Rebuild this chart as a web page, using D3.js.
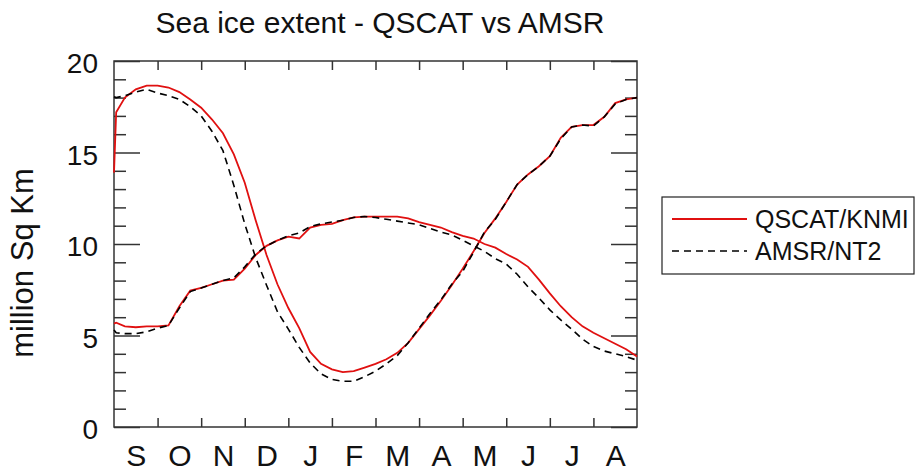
<!DOCTYPE html>
<html>
<head>
<meta charset="utf-8">
<script src="https://cdn.jsdelivr.net/npm/d3@7"></script>
<style>
  body { margin: 0; background: #fff; }
  svg text { font-family: "Liberation Sans", Arial, Helvetica, sans-serif; fill: #111; }
  .axis path, .axis line { stroke: #333; stroke-width: 1.5; }
</style>
</head>
<body>
<div id="chart"></div>
<script>
// month position (0 = start of Sep, 12 = end of Aug)
var monthPos = [0, 0.05, 0.25, 0.5, 0.75, 1, 1.25, 1.5, 1.75, 2, 2.25, 2.5, 2.75, 3, 3.25, 3.5, 3.75,
  4, 4.25, 4.5, 4.75, 5, 5.25, 5.5, 5.75, 6, 6.25, 6.5, 6.75, 7, 7.25, 7.5, 7.75,
  8, 8.25, 8.5, 8.75, 9, 9.25, 9.5, 9.75, 10, 10.25, 10.5, 10.75, 11, 11.25, 11.5, 11.75, 12];

var monthLabels = ['S', 'O', 'N', 'D', 'J', 'F', 'M', 'A', 'M', 'J', 'J', 'A'];
var yMajor = [0, 5, 10, 15, 20];

// southern hemisphere
var southQscat = [13.9, 17.2, 18.0, 18.45, 18.65, 18.65, 18.55, 18.3, 17.9, 17.45, 16.8, 16.05, 14.9, 13.35, 11.3, 9.4, 7.8,
  6.5, 5.4, 4.1, 3.45, 3.15, 3.0, 3.05, 3.25, 3.45, 3.7, 4.05, 4.6, 5.35, 6.1, 6.9, 7.75,
  8.65, 9.6, 10.6, 11.4, 12.3, 13.25, 13.8, 14.25, 14.8, 15.8, 16.4, 16.5, 16.5, 16.95, 17.7, 17.9, 18.0];
var southAmsr = [18.05, 18.0, 18.1, 18.3, 18.45, 18.25, 18.1, 17.9, 17.5, 17.0, 16.15, 15.1, 13.2, 11.1, 9.25, 7.75, 6.3,
  5.35, 4.35, 3.5, 2.9, 2.6, 2.5, 2.5, 2.75, 3.05, 3.45, 3.9, 4.6, 5.4, 6.2, 6.95, 7.8,
  8.5, 9.55, 10.65, 11.35, 12.3, 13.25, 13.8, 14.25, 14.8, 15.75, 16.4, 16.5, 16.45, 16.95, 17.65, 17.9, 18.0];

// northern hemisphere
var northQscat = [5.65, 5.7, 5.5, 5.45, 5.5, 5.5, 5.55, 6.6, 7.45, 7.6, 7.8, 8.0, 8.05, 8.65, 9.4, 9.9, 10.2,
  10.4, 10.3, 10.9, 11.05, 11.1, 11.3, 11.45, 11.5, 11.5, 11.5, 11.5, 11.4, 11.2, 11.05, 10.9, 10.65,
  10.45, 10.3, 10.0, 9.8, 9.45, 9.15, 8.75, 8.05, 7.3, 6.6, 6.0, 5.5, 5.15, 4.85, 4.55, 4.25, 3.85];
var northAmsr = [5.3, 5.15, 5.1, 5.1, 5.2, 5.4, 5.55, 6.5, 7.4, 7.6, 7.8, 8.0, 8.15, 8.75, 9.45, 9.9, 10.2,
  10.45, 10.6, 10.95, 11.1, 11.2, 11.3, 11.45, 11.5, 11.45, 11.35, 11.25, 11.15, 11.05, 10.85, 10.65, 10.5,
  10.2, 9.9, 9.6, 9.2, 8.9, 8.35, 7.65, 7.05, 6.4, 5.85, 5.35, 4.8, 4.4, 4.15, 4.0, 3.85, 3.65];

var margin = { top: 61, left: 114 };
var width = 523, height = 366;

var svg = d3.select('#chart').append('svg')
    .attr('width', 916)
    .attr('height', 473);

var g = svg.append('g')
    .attr('transform', 'translate(' + margin.left + ',' + margin.top + ')');

var x = d3.scaleLinear().domain([0, 12]).range([0, width]);
var y = d3.scaleLinear().domain([0, 20]).range([height, 0]);

var yMinor = d3.range(1, 20).filter(function (v) { return v % 5 !== 0; });
var xTicks = d3.range(1, 12);

// y axis, left and right (ticks point inward)
g.append('g').attr('class', 'axis')
    .call(d3.axisLeft(y).tickValues(yMajor).tickSize(-26).tickSizeOuter(0).tickPadding(16))
    .call(function (s) { s.select('.domain').remove(); })
    .selectAll('text')
      .style('font-size', '28px')
      .attr('dy', '0.42em');

g.append('g').attr('class', 'axis')
    .call(d3.axisLeft(y).tickValues(yMinor).tickSize(-12).tickFormat(''))
    .call(function (s) { s.select('.domain').remove(); });

g.append('g').attr('class', 'axis')
    .attr('transform', 'translate(' + width + ',0)')
    .call(d3.axisRight(y).tickValues(yMajor).tickSize(-26).tickFormat(''))
    .call(function (s) { s.select('.domain').remove(); });

g.append('g').attr('class', 'axis')
    .attr('transform', 'translate(' + width + ',0)')
    .call(d3.axisRight(y).tickValues(yMinor).tickSize(-12).tickFormat(''))
    .call(function (s) { s.select('.domain').remove(); });

// x axis, bottom and top
g.append('g').attr('class', 'axis')
    .attr('transform', 'translate(0,' + height + ')')
    .call(d3.axisBottom(x).tickValues(xTicks).tickSize(-9).tickFormat(''))
    .call(function (s) { s.select('.domain').remove(); });

g.append('g').attr('class', 'axis')
    .call(d3.axisTop(x).tickValues(xTicks).tickSize(-9).tickFormat(''))
    .call(function (s) { s.select('.domain').remove(); });

// month labels at month centres
g.append('g')
    .attr('transform', 'translate(0,' + height + ')')
    .call(d3.axisBottom(x)
      .tickValues(monthLabels.map(function (d, i) { return i + 0.5; }))
      .tickSize(0)
      .tickFormat(function (d) { return monthLabels[Math.floor(d)]; }))
    .call(function (s) { s.select('.domain').remove(); })
    .selectAll('text')
      .attr('y', 39)
      .attr('dy', null)
      .style('font-size', '30px');

// frame
g.append('rect')
    .attr('width', width)
    .attr('height', height)
    .attr('fill', 'none')
    .attr('stroke', '#333')
    .attr('stroke-width', 1.5);

var line = d3.line()
    .x(function (d) { return x(d[0]); })
    .y(function (d) { return y(d[1]); });

function pairs(vals) {
  return monthPos.map(function (m, i) { return [m, vals[i]]; });
}

[southQscat, northQscat].forEach(function (vals) {
  g.append('path')
      .attr('d', line(pairs(vals)))
      .attr('fill', 'none')
      .attr('stroke', '#e01010')
      .attr('stroke-width', 1.8);
});

[southAmsr, northAmsr].forEach(function (vals) {
  g.append('path')
      .attr('d', line(pairs(vals)))
      .attr('fill', 'none')
      .attr('stroke', '#000')
      .attr('stroke-width', 1.6)
      .attr('stroke-dasharray', '7,5');
});

// title
svg.append('text')
    .attr('x', 380)
    .attr('y', 33)
    .attr('text-anchor', 'middle')
    .style('font-size', '30px')
    .text('Sea ice extent - QSCAT vs AMSR');

// y label
svg.append('text')
    .attr('transform', 'translate(33,263) rotate(-90)')
    .attr('text-anchor', 'middle')
    .style('font-size', '31px')
    .text('million Sq Km');

// legend
var legend = svg.append('g');
legend.append('rect')
    .attr('x', 662).attr('y', 197)
    .attr('width', 252).attr('height', 77)
    .attr('fill', '#fff')
    .attr('stroke', '#222')
    .attr('stroke-width', 1.2);
legend.append('line')
    .attr('x1', 672).attr('x2', 747).attr('y1', 219).attr('y2', 219)
    .attr('stroke', '#e01010').attr('stroke-width', 1.8);
legend.append('line')
    .attr('x1', 672).attr('x2', 747).attr('y1', 251).attr('y2', 251)
    .attr('stroke', '#000').attr('stroke-width', 1.6).attr('stroke-dasharray', '7,5');
legend.append('text')
    .attr('x', 755).attr('y', 228)
    .style('font-size', '25px')
    .text('QSCAT/KNMI');
legend.append('text')
    .attr('x', 755).attr('y', 260)
    .style('font-size', '25px')
    .text('AMSR/NT2');
</script>
</body>
</html>
